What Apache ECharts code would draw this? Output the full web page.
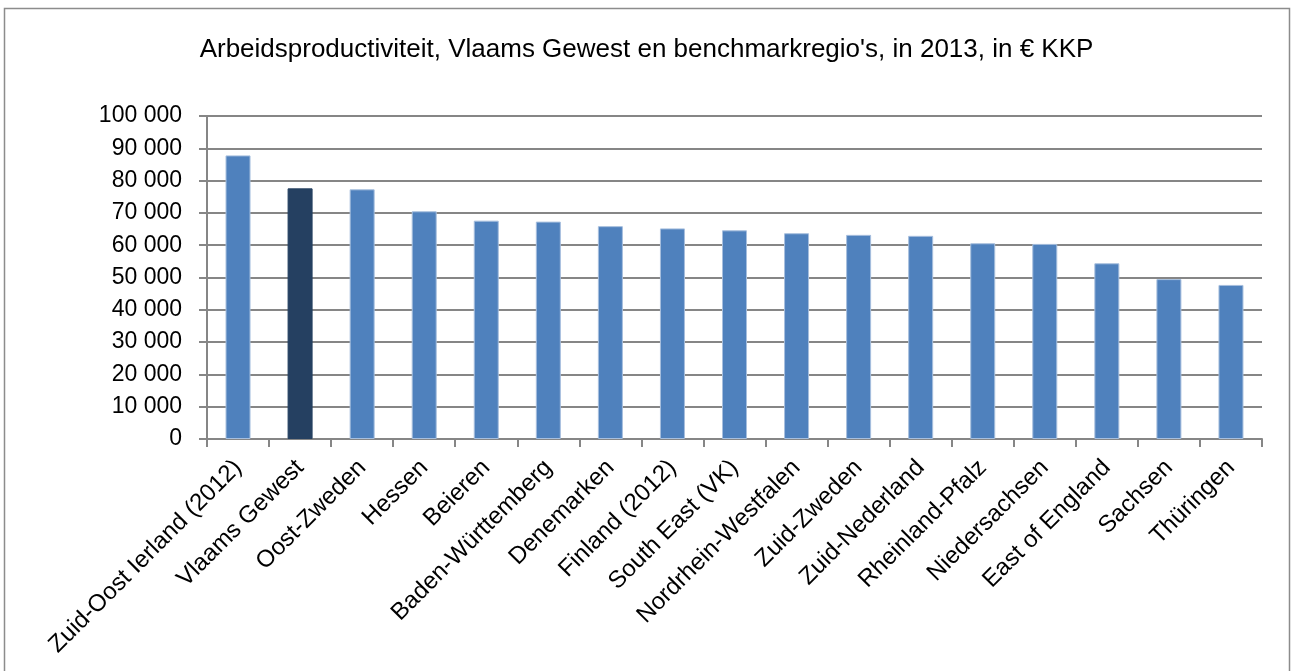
<!DOCTYPE html>
<html>
<head>
<meta charset="utf-8">
<script src="https://cdn.jsdelivr.net/npm/echarts@6/dist/echarts.min.js"></script>
<style>
  html, body { margin: 0; padding: 0; background: #fff; }
  #main { width: 1293px; height: 671px; }
</style>
</head>
<body>
<div id="main"></div>
<script>
// regions, ordered as in the source chart
const categories = [
  'Zuid-Oost Ierland (2012)', 'Vlaams Gewest', 'Oost-Zweden', 'Hessen', 'Beieren',
  'Baden-Württemberg', 'Denemarken', 'Finland (2012)', 'South East (VK)',
  'Nordrhein-Westfalen', 'Zuid-Zweden', 'Zuid-Nederland', 'Rheinland-Pfalz',
  'Niedersachsen', 'East of England', 'Sachsen', 'Thüringen'
]
// labour productivity, € PPP
const productivity = [
  87800, 77600, 77300, 70500, 67600, 67300, 65900, 65200, 64600,
  63700, 63200, 62900, 60600, 60400, 54400, 49500, 47700
]
const highlight = 'Vlaams Gewest'

const fmt = v => String(v).replace(/\B(?=(\d{3})+(?!\d))/g, ' ')

const chart = echarts.init(document.getElementById('main'))
chart.setOption({
  animation: false,
  textStyle: { fontFamily: 'Liberation Sans' },
  title: {
    text: "Arbeidsproductiviteit, Vlaams Gewest en benchmarkregio's, in 2013, in € KKP",
    left: 'center',
    top: 32,
    textStyle: { fontSize: 26, fontWeight: 'normal', color: '#000', fontFamily: 'Liberation Sans' }
  },
  graphic: [{
    type: 'rect',
    shape: { x: 4.5, y: 8.5, width: 1285, height: 700 },
    style: { fill: 'none', stroke: '#8c8c8c', lineWidth: 1.5 },
    silent: true
  }],
  grid: { left: 207, right: 31, top: 116, bottom: 232 },
  xAxis: {
    type: 'category',
    data: categories,
    axisLine: { lineStyle: { color: '#868686', width: 2 } },
    axisTick: { show: true, length: 8, lineStyle: { color: '#868686', width: 2 } },
    axisLabel: { rotate: 45, interval: 0, fontSize: 24, color: '#000', margin: 25 }
  },
  yAxis: {
    type: 'value',
    min: 0,
    max: 100000,
    interval: 10000,
    axisLine: { show: true, lineStyle: { color: '#868686', width: 2 } },
    axisTick: { show: true, length: 8, lineStyle: { color: '#868686', width: 2 } },
    splitLine: { lineStyle: { color: '#868686', width: 2 } },
    axisLabel: { fontSize: 23, color: '#000', margin: 25, formatter: fmt }
  },
  series: [{
    type: 'bar',
    barWidth: 25,
    data: productivity.map((v, i) => ({
      value: v,
      itemStyle: {
        color: categories[i] === highlight ? '#254061' : '#4f81bd',
        borderColor: categories[i] === highlight ? '#254061' : '#a7bfde',
        borderWidth: 1
      }
    }))
  }]
})
</script>
</body>
</html>
